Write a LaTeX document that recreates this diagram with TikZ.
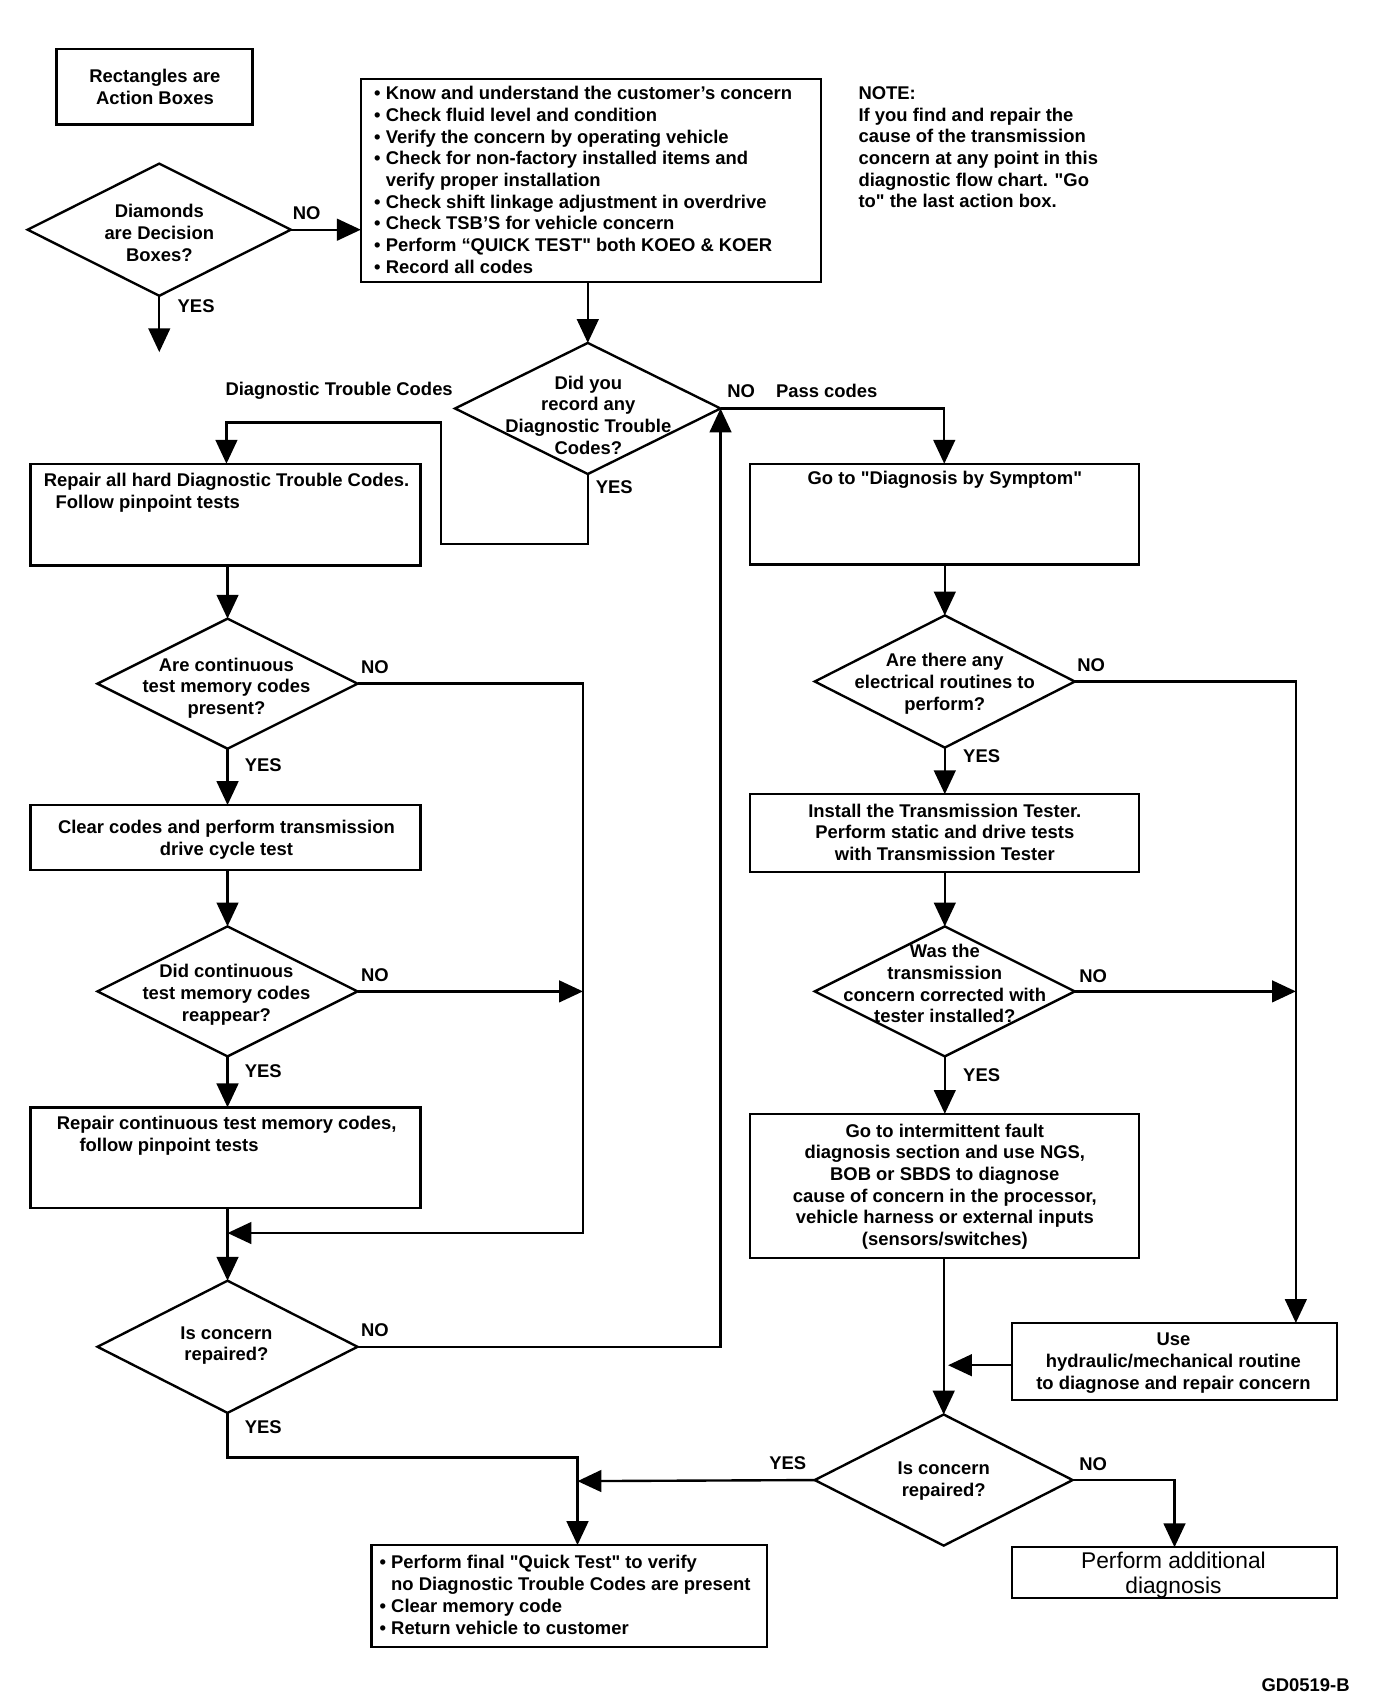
\documentclass[tikz,border=0pt]{standalone}
\usepackage{fontspec}
\setmainfont{Liberation Sans}[Ligatures=TeXOff]
\usetikzlibrary{arrows.meta,shapes.geometric,fit,calc}
\begin{document}
\begin{tikzpicture}[x=0.5pt,y=-0.5pt,
  box/.style={draw,line width=1.1pt,inner sep=0pt,outer sep=0pt},
  dia/.style={draw,diamond,line width=1.1pt,inner sep=0pt,outer sep=0pt},
  txt/.style={font=\fontsize{8.5}{10}\selectfont\bfseries,inner sep=0pt,align=center},
  ltxt/.style={font=\fontsize{8.5}{10}\selectfont\bfseries,inner sep=0pt,align=left},
  lbl/.style={font=\fontsize{8.5}{10}\selectfont\bfseries,inner sep=0pt},
  big/.style={font=\fontsize{10.5}{11.5}\selectfont,inner sep=0pt,align=center},
  ln/.style={line width=1.1pt},
  arr/.style={line width=1.1pt,-{Triangle[length=11pt,width=10pt]}}]
\fill[white] (0,0) rectangle (1270,1572.7);
\useasboundingbox (0,0) rectangle (1270,1572.7);

% ---------- boxes ----------
\node[box,fit={(52,45) (233,115)}] (b0) {};
\node[box,fit={(333,73) (758,260)}] (b1) {};
\node[box,fit={(28,428) (388,522)}] (b2) {};
\node[box,fit={(692,428) (1051,521)}] (b3) {};
\node[box,fit={(28,743) (388,803)}] (b4) {};
\node[box,fit={(28,1022) (388,1115)}] (b5) {};
\node[box,fit={(692,733) (1051,805)}] (b6) {};
\node[box,fit={(692,1028) (1051,1161)}] (b7) {};
\node[box,fit={(934,1221) (1234,1292)}] (b8) {};
\node[box,fit={(934,1428) (1234,1475)}] (b9) {};
\node[box,fit={(343,1426) (708,1520)}] (b10) {};

% ---------- diamonds ----------
\node[dia,minimum width=121.5pt,minimum height=61pt] (d1) at (147,212) {};
\node[dia,minimum width=122.5pt,minimum height=60.5pt] (d2) at (542.5,377) {};
\node[dia,minimum width=120pt,minimum height=60pt] (d3) at (210,631) {};
\node[dia,minimum width=120pt,minimum height=60pt] (d4) at (210,915) {};
\node[dia,minimum width=120pt,minimum height=61pt] (d5) at (210,1243) {};
\node[dia,minimum width=120pt,minimum height=61pt] (d6) at (872,629) {};
\node[dia,minimum width=120pt,minimum height=60pt] (d7) at (872,915) {};
\node[dia,minimum width=119pt,minimum height=60.5pt] (d8) at (871,1366) {};

% ---------- texts ----------
\node[txt] (t0) at (143,80) {Rectangles are\\Action Boxes};
\node[txt] (t1) at (147,215) {Diamonds\\are Decision\\Boxes?};
\node[lbl] (l0a) at (283,197) {NO};
\node[lbl] (l0b) at (181,283) {YES};
\node[ltxt,anchor=west] (t2) at (345,166) {\textbullet\ Know and understand the customer’s concern\\
\textbullet\ Check fluid level and condition\\
\textbullet\ Verify the concern by operating vehicle\\
\textbullet\ Check for non-factory installed items and\\
\phantom{\textbullet\ }verify proper installation\\
\textbullet\ Check shift linkage adjustment in overdrive\\
\textbullet\ Check TSB’S for vehicle concern\\
\textbullet\ Perform “QUICK TEST" both KOEO \& KOER\\
\textbullet\ Record all codes};
\node[ltxt,anchor=west] (t3) at (792,136) {NOTE:\\If you find and repair the\\cause of the transmission\\concern at any point in this\\diagnostic flow chart. "Go\\to" the last action box.};
\node[txt] (t4) at (543,383) {Did you\\record any\\Diagnostic Trouble\\Codes?};
\node[lbl] (l1) at (313,361) {Diagnostic Trouble Codes};
\node[lbl] (l2) at (684,361) {NO};
\node[lbl] (l3) at (763,361) {Pass codes};
\node[lbl] (l4) at (567,450) {YES};
\node[ltxt,anchor=west] (t5) at (40,455) {Repair all hard Diagnostic Trouble Codes.\\\hspace*{5.5pt}Follow pinpoint tests};
\node[txt] (t6) at (872,443) {Go to "Diagnosis by Symptom"};
\node[txt] (t7) at (209,635) {Are continuous\\test memory codes\\present?};
\node[lbl] (l5) at (346,616) {NO};
\node[lbl] (l6) at (243,706) {YES};
\node[txt] (t8) at (209,775) {Clear codes and perform transmission\\drive cycle test};
\node[txt] (t9) at (209,918) {Did continuous\\test memory codes\\reappear?};
\node[lbl] (l7) at (346,900) {NO};
\node[lbl] (l8) at (243,989) {YES};
\node[ltxt,anchor=west] (t10) at (52,1048) {Repair continuous test memory codes,\\\hspace*{10.5pt}follow pinpoint tests};
\node[txt] (t11) at (209,1242) {Is concern\\repaired?};
\node[lbl] (l9) at (346,1228) {NO};
\node[lbl] (l10) at (243,1317) {YES};
\node[ltxt,anchor=west] (t12) at (350,1472) {\textbullet\ Perform final "Quick Test" to verify\\
\phantom{\textbullet\ }no Diagnostic Trouble Codes are present\\
\textbullet\ Clear memory code\\
\textbullet\ Return vehicle to customer};
\node[txt] (t13) at (872,631) {Are there any\\electrical routines to\\perform?};
\node[lbl] (l11) at (1007,614) {NO};
\node[lbl] (l12) at (906,698) {YES};
\node[txt] (t14) at (872,768) {Install the Transmission Tester.\\Perform static and drive tests\\with Transmission Tester};
\node[txt] (t15) at (872,908) {Was the\\transmission\\concern corrected with\\tester installed?};
\node[lbl] (l13) at (1009,901) {NO};
\node[lbl] (l14) at (906,992) {YES};
\node[txt] (t16) at (872,1095) {Go to intermittent fault\\diagnosis section and use NGS,\\BOB or SBDS to diagnose\\cause of concern in the processor,\\vehicle harness or external inputs\\(sensors/switches)};
\node[txt] (t17) at (1083,1258) {Use\\hydraulic/mechanical routine\\to diagnose and repair concern};
\node[txt] (t18) at (871,1367) {Is concern\\repaired?};
\node[lbl] (l15) at (727,1350) {YES};
\node[lbl] (l16) at (1009,1351) {NO};
\node[big] (t19) at (1083,1454) {Perform additional\\diagnosis};
\node[lbl,anchor=east] (t20) at (1246,1555) {GD0519-B};

% ---------- connector end points ----------
\coordinate (c1) at (147,325);
\coordinate (m1) at (210,1138);
\coordinate (m2) at (538,915);
\coordinate (m3) at (1196,915);
\coordinate (f1) at (533,1367);

% ---------- connectors ----------
\draw[arr] (d1.east) -- (d1.east -| b1.west);
\draw[arr] (d1.south) -- (c1);
\draw[arr] (d2.north |- b1.south) -- (d2.north);
\draw[arr] (d2.south) -- (542.5,502) -| (407,390) -| (b2.north -| 209,0);
\draw[arr] (d2.east) -| (b3.north);
\draw[arr] (d5.east) -| (d2.east);
\draw[arr] (d3.north |- b2.south) -- (d3.north);
\draw[arr] (d3.south) -- (d3.south |- b4.north);
\draw[arr] (d3.east) -| (538,1138) -- (m1);
\draw[arr] (d4.north |- b4.south) -- (d4.north);
\draw[arr] (d4.east) -- (m2);
\draw[arr] (d4.south) -- (d4.south |- b5.north);
\draw[arr] (d5.north |- b5.south) -- (d5.north);
\draw[arr] (d5.south) -- (210,1345) -| (f1 |- b10.north);
\draw[arr] (d8.west) -- (f1);
\draw[arr] (d6.north |- b3.south) -- (d6.north);
\draw[arr] (d6.south) -- (d6.south |- b6.north);
\draw[arr] (d6.east) -| (1196,0 |- b8.north);
\draw[arr] (d7.north |- b6.south) -- (d7.north);
\draw[arr] (d7.east) -- (m3);
\draw[arr] (d7.south) -- (d7.south |- b7.north);
\draw[arr] (d8.north |- b7.south) -- (d8.north);
\draw[arr] (b8.west |- 0,1260) -- (875,1260);
\draw[arr] (d8.east) -| (b9.north);
\end{tikzpicture}
\end{document}
